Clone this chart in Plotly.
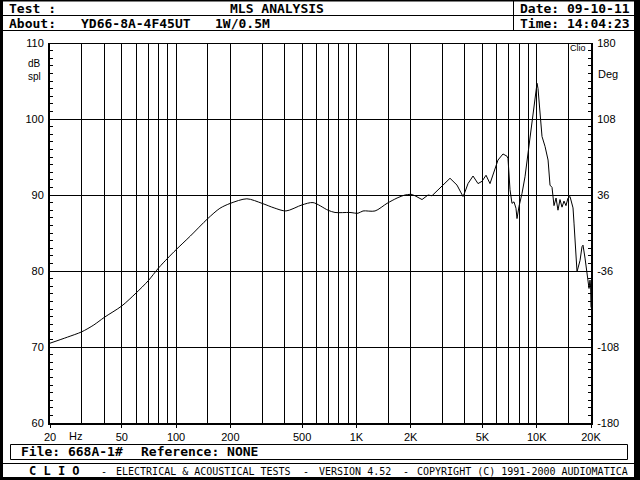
import plotly.graph_objects as go

# ---------------- data ----------------
freq_smooth = [20, 25, 30, 35, 40, 50, 60, 70, 80, 90, 100, 120, 150, 175, 200, 247,
               300, 350, 407, 500, 575, 696, 761, 921, 1021, 1088, 1269, 1479, 1681,
               1861, 2009]
spl_smooth = [70.5, 71.3, 72.0, 72.9, 73.9, 75.4, 77.1, 78.7, 80.4, 81.7, 82.8, 84.6,
              86.9, 88.25, 88.9, 89.5, 88.9, 88.3, 87.9, 88.7, 89.0, 88.0, 87.7, 87.7,
              87.6, 87.9, 87.9, 88.9, 89.6, 90.0, 90.1]

freq_detail = [2009, 2114, 2312, 2496, 2626, 2836, 3001, 3306, 3614, 3903, 4002, 4159,
               4434, 4726, 4973, 5235, 5508, 5872, 6099, 6501, 6844, 6931, 7111, 7293,
               7482, 7675, 7775, 7976, 8288, 8612, 8951, 9183, 9538, 9787, 10040, 10170,
               10430, 10700, 11120, 11560, 11850, 12160, 12470, 12800, 13120, 13460,
               13810, 14170, 14530, 14910, 15300, 15700, 15900, 16100, 16310, 16730,
               16950, 17390, 17830, 18060, 18530, 19010, 19250, 19500, 19750, 19900,
               20000]
spl_detail = [90.1, 89.9, 89.4, 90.0, 89.9, 90.7, 91.2, 92.2, 91.3, 89.8, 90.4, 91.5,
              92.5, 91.5, 91.8, 92.6, 91.5, 93.3, 94.6, 95.4, 95.1, 94.8, 90.7, 88.9,
              89.1, 88.25, 86.9, 88.5, 90.2, 92.4, 95.5, 97.7, 100.3, 102.9, 104.7, 104.0,
              101.2, 97.7, 96.4, 94.6, 91.3, 91.0, 88.6, 89.6, 88.0, 89.4,
              88.4, 89.2, 88.6, 89.6, 89.8, 88.9, 88.3, 86.3, 84.1, 79.9,
              80.4, 81.4, 83.2, 83.4, 81.7, 79.7, 78.8, 77.7, 78.8, 78.0,
              75.2]

grid_freqs = [30, 40, 50, 60, 70, 80, 90, 100, 150, 200, 300, 400, 500, 600, 700, 800,
              900, 1000, 1500, 2000, 3000, 4000, 5000, 6000, 7000, 8000, 9000, 10000,
              15000, 20000]
label_freqs = [20, 50, 100, 200, 500, 1000, 2000, 5000, 10000, 20000]
label_text = ["20", "50", "100", "200", "500", "1K", "2K", "5K", "10K", "20K"]

spl_ticks = [60, 70, 80, 90, 100, 110]
phase_ticks = [-180, -108, -36, 36, 108, 180]
phase_text = ["-180", "-108", "-36", "36", "108", "180"]

# ---------------- geometry helpers (pixel -> paper) ----------------
L, R, T, B = 50, 591, 43, 423
W, H = R - L, B - T


def X(px):
    return (px - L) / W


def Y(py):
    return (B - py) / H


fig = go.Figure()
fig.add_trace(go.Scatter(x=freq_smooth, y=spl_smooth, mode="lines",
                         line=dict(color="black", width=1, shape="spline", smoothing=0.8),
                         hoverinfo="skip", showlegend=False))
fig.add_trace(go.Scatter(x=freq_detail, y=spl_detail, mode="lines",
                         line=dict(color="black", width=1),
                         hoverinfo="skip", showlegend=False))
fig.add_trace(go.Scatter(x=[], y=[], yaxis="y2", showlegend=False))

tickfont = dict(family="Liberation Sans, Arial, sans-serif", size=11, color="black")

fig.update_layout(
    width=640, height=480,
    margin=dict(l=L, r=640 - R, t=T, b=480 - B),
    paper_bgcolor="white", plot_bgcolor="white",
    showlegend=False,
    xaxis=dict(type="log", range=[1.30103, 4.30103], tickmode="array",
               tickvals=label_freqs, ticktext=label_text, ticks="outside",
               ticklen=3, tickcolor="black", tickwidth=1,
               showgrid=True, gridcolor="black", gridwidth=1,
               showline=True, linecolor="black", linewidth=2,
               tickfont=tickfont, zeroline=False,
               minor=dict(tickmode="array", tickvals=grid_freqs, ticks="inside",
                          ticklen=4, tickcolor="black", showgrid=True,
                          gridcolor="black", gridwidth=1)),
    yaxis=dict(range=[60, 110], tickmode="array", tickvals=spl_ticks,
               ticks="", showgrid=True, gridcolor="black", gridwidth=1,
               showline=True, linecolor="black", linewidth=2, zeroline=False,
               tickfont=tickfont, ticklabelstandoff=2,
               minor=dict(dtick=1, ticks="inside", ticklen=3, tickcolor="black",
                          showgrid=False)),
    yaxis2=dict(range=[-180, 180], overlaying="y", side="right", anchor="x",
                tickmode="array", tickvals=phase_ticks, ticktext=phase_text,
                ticks="", showgrid=False, zeroline=False,
                showline=True, linecolor="black", linewidth=2,
                tickfont=tickfont, ticklabelstandoff=2,
                minor=dict(dtick=7.2, ticks="inside", ticklen=3, tickcolor="black",
                           showgrid=False)),
)

shapes = []


def line(x0, y0, x1, y1, w=1):
    shapes.append(dict(type="line", xref="paper", yref="paper",
                       x0=X(x0), y0=Y(y0), x1=X(x1), y1=Y(y1),
                       line=dict(color="black", width=w)))


def rect(x0, y0, x1, y1, w=1, fill=None):
    shapes.append(dict(type="rect", xref="paper", yref="paper",
                       x0=X(x0), y0=Y(y0), x1=X(x1), y1=Y(y1),
                       line=dict(color="black", width=w),
                       fillcolor=fill if fill else "rgba(0,0,0,0)"))


# plot top frame line
line(L, T + 0.5, R, T + 0.5, 1)
# outer image border
rect(0, 0, 3, 480, 0, "black")
rect(634, 0, 640, 480, 0, "black")
rect(0, 0, 640, 1.5, 0, "black")
rect(0, 477, 640, 480, 0, "black")
# header separators
line(0, 15.5, 640, 15.5, 1)
line(0, 30.5, 640, 30.5, 1)
line(513.5, 0, 513.5, 30.5, 1)
# file box
rect(10.5, 444.5, 627.5, 459.5, 1)
# footer separator
line(0, 463.5, 640, 463.5, 1)

fig.update_layout(shapes=shapes)

ann = []
mono_b = dict(family="DejaVu Sans Mono, monospace", size=13, color="black")
mono = dict(family="DejaVu Sans Mono, monospace", size=10, color="black")
small = dict(family="Liberation Sans, Arial, sans-serif", size=11, color="black")
small10 = dict(family="Liberation Sans, Arial, sans-serif", size=10, color="black")


def text(s, px, py, font, xanchor="left"):
    ann.append(dict(text=s, x=X(px), y=Y(py), xref="paper", yref="paper",
                    xanchor=xanchor, yanchor="middle", showarrow=False, font=font,
                    borderpad=0))


text("<b>Test :</b>", 8, 8, mono_b)
text("<b>MLS ANALYSIS</b>", 277, 8, mono_b, "center")
text("<b>Date: 09-10-11</b>", 519, 8, mono_b)
text("<b>About:</b>", 8, 23, mono_b)
text("<b>YD66-8A-4F45UT</b>", 80, 23, mono_b)
text("<b>1W/0.5M</b>", 214, 23, mono_b)
text("<b>Time: 14:04:23</b>", 519, 23, mono_b)

text("dB", 27, 64, small10)
text("spl", 27, 76, small10)
text("Deg", 597, 74, small)
text("Clio", 569, 48, dict(family="Liberation Sans, Arial, sans-serif", size=9, color="black"))
text("Hz", 75, 436, small, "center")

text("<b>File: 668A-1#</b>", 20, 452, mono_b)
text("<b>Reference: NONE</b>", 140, 452, mono_b)

text("<b>C L I O</b>", 28, 471, dict(family="DejaVu Sans Mono, monospace", size=12, color="black"))
text("-", 100, 471, mono)
text("ELECTRICAL &amp; ACOUSTICAL TESTS", 115, 471, mono)
text("-", 302, 471, mono)
text("VERSION 4.52", 318, 471, mono)
text("-", 402, 471, mono)
text("COPYRIGHT (C) 1991-2000 AUDIOMATICA", 416, 471, mono)

fig.update_layout(annotations=ann)

fig.write_html("out.html", config={"displayModeBar": False},
               post_script="document.body.style.margin='0px';")
